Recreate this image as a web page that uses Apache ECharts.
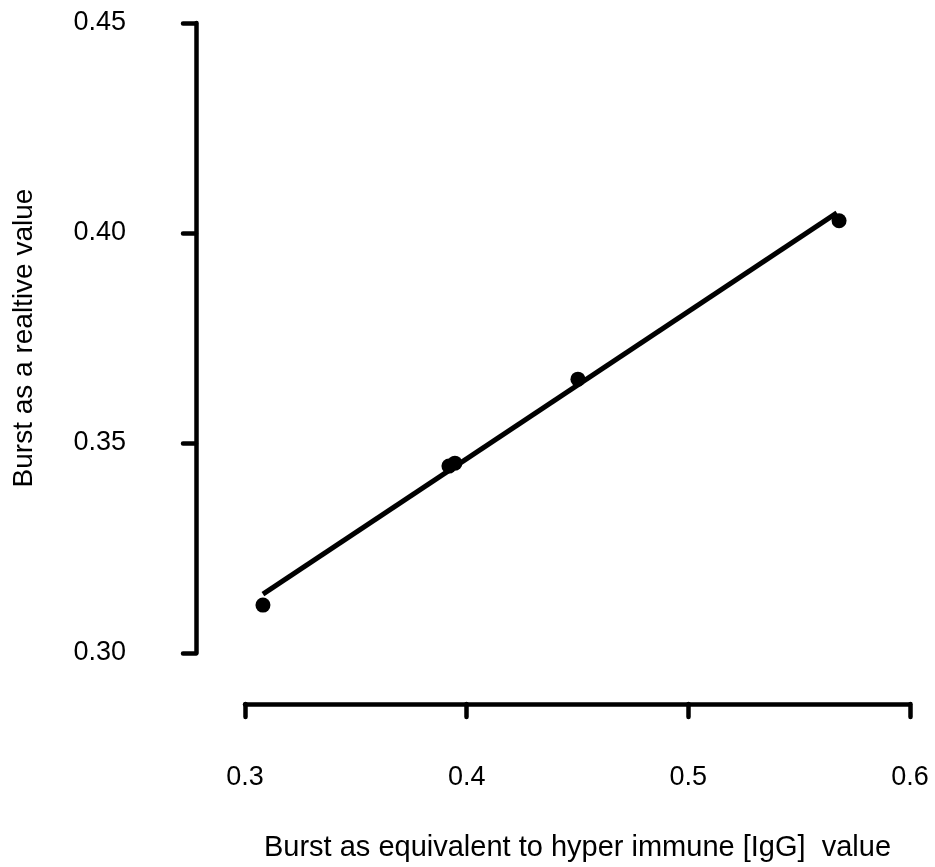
<!DOCTYPE html>
<html>
<head>
<meta charset="utf-8">
<script src="https://cdn.jsdelivr.net/npm/echarts@6/dist/echarts.min.js"></script>
<style>html,body{margin:0;padding:0;background:#fff}#c{width:935px;height:867px}</style>
</head>
<body>
<div id="c"></div>
<script>
var pointX = [0.3081, 0.3920, 0.3947, 0.4502, 0.5680];
var pointY = [0.3114, 0.3445, 0.3452, 0.3652, 0.4029];
var fitX = [0.3081, 0.5670];
var fitY = [0.3140, 0.4048];
var xTicks = [0.3, 0.4, 0.5, 0.6];
var yTicks = [0.30, 0.35, 0.40, 0.45];
var xTitle = 'Burst as equivalent to hyper immune [IgG]  value';
var yTitle = 'Burst as a realtive value';

var font = 'Liberation Sans, Arial, sans-serif';
var chart = echarts.init(document.getElementById('c'));
var axisCommon = {
  type: 'value',
  splitLine: {show: false},
  axisLine: {show: true, lineStyle: {color: '#000', width: 4.5, cap: 'round'}},
  axisTick: {show: true, length: 13, lineStyle: {color: '#000', width: 4.5, cap: 'round'}},
  nameLocation: 'middle'
};
chart.setOption({
  animation: false,
  backgroundColor: '#fff',
  grid: {left: 245, right: 25, top: 23, bottom: 214},
  xAxis: Object.assign({}, axisCommon, {
    min: xTicks[0], max: xTicks[xTicks.length - 1], interval: 0.1,
    offset: 51,
    name: xTitle, nameGap: 129,
    nameTextStyle: {color: '#000', fontSize: 29, fontFamily: font},
    axisLabel: {color: '#000', fontSize: 27, fontFamily: font, margin: 60,
      formatter: function (v) { return v.toFixed(1); }}
  }),
  yAxis: Object.assign({}, axisCommon, {
    min: yTicks[0], max: yTicks[yTicks.length - 1], interval: 0.05,
    offset: 49,
    name: yTitle, nameGap: 158, nameRotate: 90,
    nameTextStyle: {color: '#000', fontSize: 28, fontFamily: font},
    axisLabel: {color: '#000', fontSize: 27, fontFamily: font, margin: 70,
      formatter: function (v) { return v.toFixed(2); }}
  }),
  series: [
    {
      type: 'line',
      data: fitX.map(function (x, i) { return [x, fitY[i]]; }),
      showSymbol: false,
      lineStyle: {color: '#000', width: 5},
      z: 2
    },
    {
      type: 'scatter',
      data: pointX.map(function (x, i) { return [x, pointY[i]]; }),
      symbol: 'circle',
      symbolSize: 15,
      itemStyle: {color: '#000', opacity: 1},
      z: 3
    }
  ]
});
</script>
</body>
</html>
